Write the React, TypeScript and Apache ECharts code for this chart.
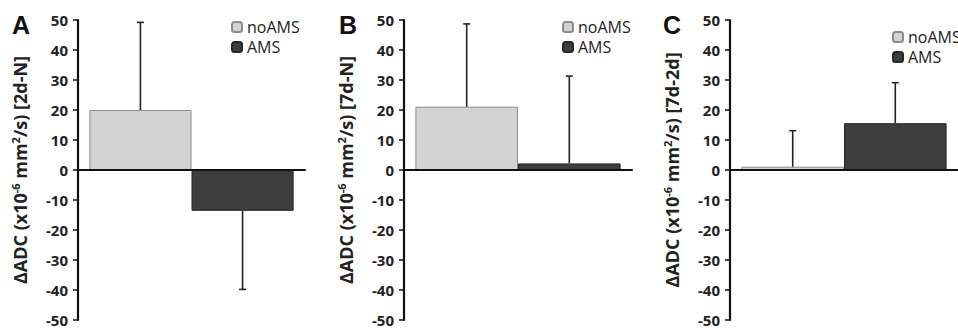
import React, { useEffect, useRef } from "react";
import * as echarts from "echarts";

const panelLetters = ["A", "B", "C"];
const yNameSuffixes = ["[2d-N]", "[7d-N]", "[7d-2d]"];
const seriesNames = ["noAMS", "AMS"];
const noAMSMeans = [20.0, 21.1, 1.1];
const noAMSErrors = [29.2, 27.6, 12.0];
const amsMeans = [-13.6, 2.2, 15.6];
const amsErrors = [26.2, 29.1, 13.5];
const yMin = -50;
const yMax = 50;
const yStep = 10;

const FONT = "'Open Sans', 'Noto Sans', sans-serif";
const gridLefts = [78, 404, 730];
const gridWidths = [227, 228, 232];
const legendPos = [
  { left: 231, top: 19 },
  { left: 562, top: 19 },
  { left: 892, top: 29 },
];
const letterX = [12, 339, 663];

export default function App() {
  const ref = useRef<HTMLDivElement>(null);
  useEffect(() => {
    if (!ref.current) return;
    const chart = echarts.init(ref.current, null, { renderer: "svg" });
    const grids: any[] = [];
    const xAxes: any[] = [];
    const yAxes: any[] = [];
    const series: any[] = [];
    const legends: any[] = [];
    const graphics: any[] = [];
    const colors = ["#d3d3d3", "#3d3d3d"];
    const borders = ["#8c8c8c", "#262626"];

    for (let i = 0; i < 3; i++) {
      grids.push({ left: gridLefts[i], top: 20, width: gridWidths[i], height: 300 });
      xAxes.push({
        type: "category",
        gridIndex: i,
        data: [""],
        z: 10,
        axisLine: { onZero: true, lineStyle: { color: "#111", width: 2.2 } },
        axisTick: { show: false },
        axisLabel: { show: false },
        splitLine: { show: false },
      });
      yAxes.push({
        type: "value",
        gridIndex: i,
        min: yMin,
        max: yMax,
        interval: yStep,
        name: "ΔADC (x10{sup|-6} mm{sup|2}/s) " + yNameSuffixes[i],
        nameLocation: "middle",
        nameRotate: 90,
        nameGap: 48,
        nameTextStyle: {
          fontFamily: FONT,
          fontWeight: "bold",
          fontSize: 18,
          color: "#222",
          rich: {
            sup: {
              fontFamily: FONT,
              fontWeight: "bold",
              fontSize: 11,
              color: "#222",
              verticalAlign: "top",
              padding: [0, 0, 9, 0],
            },
          },
        },
        axisLine: { show: true, lineStyle: { color: "#111", width: 2.2 } },
        axisTick: { show: true, length: 5, lineStyle: { color: "#111", width: 1.5 } },
        axisLabel: {
          margin: 10,
          fontFamily: FONT,
          fontWeight: "bold",
          fontSize: 15,
          color: "#222",
        },
        splitLine: { show: false },
      });
      const means = [noAMSMeans[i], amsMeans[i]];
      const errs = [noAMSErrors[i], amsErrors[i]];
      for (let s = 0; s < 2; s++) {
        series.push({
          type: "bar",
          name: seriesNames[s],
          xAxisIndex: i,
          yAxisIndex: i,
          barWidth: "45%",
          barGap: "0%",
          z: 2,
          itemStyle: { color: colors[s], borderColor: borders[s], borderWidth: 1 },
          data: [means[s]],
        });
      }
      series.push({
        type: "custom",
        xAxisIndex: i,
        yAxisIndex: i,
        z: 5,
        data: [
          [0, means[0], errs[0], -1],
          [0, means[1], errs[1], 1],
        ],
        encode: { x: 0, y: 1 },
        renderItem: (params: any, api: any) => {
          const mean = api.value(1);
          const err = api.value(2);
          const side = api.value(3);
          const band = api.size([1, 0])[0];
          const end = mean >= 0 ? mean + err : mean - err;
          const p0 = api.coord([0, mean]);
          const p1 = api.coord([0, end]);
          const x = p0[0] + side * band * 0.225;
          const style = { stroke: "#222", lineWidth: 1.6 };
          return {
            type: "group",
            children: [
              { type: "line", shape: { x1: x, y1: p0[1], x2: x, y2: p1[1] }, style },
              { type: "line", shape: { x1: x - 3.5, y1: p1[1], x2: x + 3.5, y2: p1[1] }, style },
            ],
          };
        },
      });
      legends.push({
        data: seriesNames,
        orient: "vertical",
        left: legendPos[i].left,
        top: legendPos[i].top,
        itemWidth: 10,
        itemHeight: 10,
        itemGap: 4,
        padding: 0,
        selectedMode: false,
        textStyle: { fontFamily: FONT, fontSize: 16, lineHeight: 15, color: "#222" },
      });
      graphics.push({
        type: "text",
        left: letterX[i],
        top: 12,
        style: {
          text: panelLetters[i],
          fontFamily: "'Liberation Sans', Arial, sans-serif",
          fontWeight: "bold",
          fontSize: 25,
          fill: "#111",
        },
      });
    }

    chart.setOption({
      animation: false,
      backgroundColor: "#ffffff",
      grid: grids,
      xAxis: xAxes,
      yAxis: yAxes,
      legend: legends,
      series,
      graphic: graphics,
    });
    return () => chart.dispose();
  }, []);
  return (
    <div
      ref={ref}
      style={{ position: "absolute", left: 0, top: 0, width: 958, height: 328, background: "#fff" }}
    />
  );
}
